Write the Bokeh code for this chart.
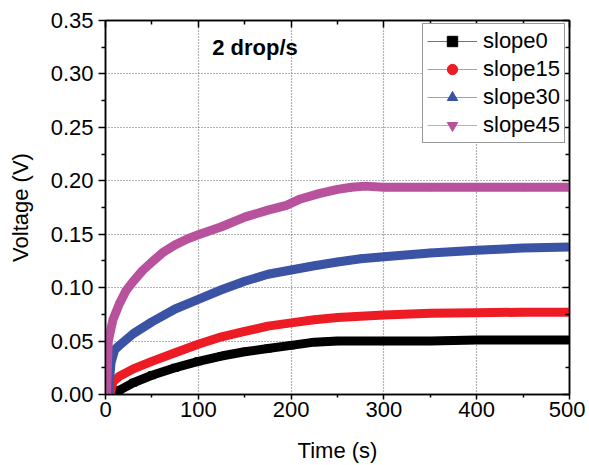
from bokeh.plotting import figure
from bokeh.models import (Range1d, FixedTicker, LinearAxis, Label, Grid,
                          PrintfTickFormatter, CustomJSTickFormatter, Legend, LegendItem)
from bokeh.embed import file_html
from bokeh.resources import INLINE

# ---- data ----
t_slope0 = [6, 15, 30, 50, 75, 100, 125, 150, 175, 200, 225, 250, 300, 350, 400, 450, 500]
v_slope0 = [0.0, 0.004, 0.011, 0.018, 0.025, 0.031, 0.036, 0.040, 0.043, 0.046, 0.049, 0.050,
            0.050, 0.050, 0.051, 0.051, 0.051]

t_slope15 = [5, 8, 15, 30, 50, 75, 100, 125, 150, 175, 200, 225, 250, 300, 350, 400, 450, 500]
v_slope15 = [0.0, 0.012, 0.017, 0.024, 0.031, 0.039, 0.047, 0.054, 0.059, 0.064, 0.067, 0.070,
             0.072, 0.0745, 0.076, 0.0765, 0.077, 0.077]

t_slope30 = [3, 6, 10, 15, 30, 50, 75, 100, 125, 150, 175, 200, 225, 250, 275, 300, 350, 400, 450, 500]
v_slope30 = [0.0, 0.030, 0.042, 0.046, 0.057, 0.068, 0.080, 0.089, 0.098, 0.106, 0.1125, 0.1165,
             0.1205, 0.124, 0.127, 0.129, 0.1325, 0.135, 0.137, 0.138]

t_slope45 = [1, 3, 8, 15, 22, 30, 40, 50, 62, 75, 88, 100, 125, 150, 175, 195, 210, 230, 250,
             265, 280, 300, 350, 400, 450, 500]
v_slope45 = [0.0, 0.050, 0.070, 0.085, 0.097, 0.106, 0.116, 0.124, 0.133, 0.140, 0.1455, 0.1495,
             0.157, 0.166, 0.1725, 0.177, 0.183, 0.188, 0.192, 0.194, 0.195, 0.194, 0.194, 0.194,
             0.194, 0.194]

series_names = ["slope0", "slope15", "slope30", "slope45"]
title_text = "2 drop/s"
x_label = "Time (s)"
y_label = "Voltage (V)"

x_ticks = [0, 100, 200, 300, 400, 500]
x_minor = [50, 150, 250, 350, 450]
y_ticks = [0.0, 0.05, 0.10, 0.15, 0.20, 0.25, 0.30, 0.35]
y_minor = [0.025, 0.075, 0.125, 0.175, 0.225, 0.275, 0.325]
x_grid = [100, 200, 300, 400]
y_grid = [0.05, 0.10, 0.15, 0.20, 0.25, 0.30]

FONT = "Liberation Sans"

p = figure(width=585, height=465, output_backend="svg", toolbar_location=None,
           x_range=Range1d(0, 500), y_range=Range1d(0, 0.35),
           min_border_left=105, min_border_right=16, min_border_top=20, min_border_bottom=70,
           x_axis_type=None, y_axis_type=None)
p.background_fill_color = "white"
p.border_fill_color = "white"
p.outline_line_color = "black"
p.outline_line_width = 1.5

xt = FixedTicker(ticks=x_ticks, minor_ticks=x_minor)
yt = FixedTicker(ticks=y_ticks, minor_ticks=y_minor)

def style_axis(ax, inward=False):
    ax.axis_line_color = "black"
    ax.axis_line_width = 1.5
    ax.major_tick_line_color = "black"
    ax.minor_tick_line_color = "black"
    ax.major_tick_line_width = 1.5
    ax.minor_tick_line_width = 1.5
    if inward:
        ax.major_tick_in, ax.major_tick_out = 7, 0
        ax.minor_tick_in, ax.minor_tick_out = 4, 0
    else:
        ax.major_tick_in, ax.major_tick_out = 0, 7
        ax.minor_tick_in, ax.minor_tick_out = 0, 4
    ax.major_label_text_font = FONT
    ax.major_label_text_font_size = "22px"
    ax.major_label_text_color = "black"
    ax.axis_label_text_font = FONT
    ax.axis_label_text_font_size = "22px"
    ax.axis_label_text_font_style = "normal"
    ax.axis_label_text_color = "black"

xb = LinearAxis(ticker=xt, axis_label=x_label)
style_axis(xb)
xb.major_tick_out = 5
xb.minor_tick_out = 3
xb.major_label_standoff = 2
xb.axis_label_standoff = 18
p.add_layout(xb, "below")

yl = LinearAxis(ticker=yt, axis_label=y_label, formatter=PrintfTickFormatter(format="%.2f"))
style_axis(yl)
yl.major_label_standoff = 5
yl.axis_label_standoff = 15
p.add_layout(yl, "left")

blank = CustomJSTickFormatter(code="return ''")
xtop = LinearAxis(ticker=xt, formatter=blank)
style_axis(xtop, inward=True)
p.add_layout(xtop, "above")
yr = LinearAxis(ticker=yt, formatter=blank)
style_axis(yr, inward=True)
p.add_layout(yr, "right")

for dim, ticks in ((0, x_grid), (1, y_grid)):
    g = Grid(dimension=dim, ticker=FixedTicker(ticks=ticks))
    g.grid_line_color = "#666666"
    g.grid_line_dash = "1 2"
    g.grid_line_width = 1.2
    p.add_layout(g)

colors = ["#000000", "#ED1C24", "#3A53A4", "#B8529C"]
markers = ["square", "circle", "triangle", "inverted_triangle"]
ts = [t_slope0, t_slope15, t_slope30, t_slope45]
vs = [v_slope0, v_slope15, v_slope30, v_slope45]

items = []
for name, c, m, t, v in zip(series_names, colors, markers, ts, vs):
    thin = p.line(t, v, line_color=c, line_width=1.2, line_alpha=0.55)
    p.line(t, v, line_color=c, line_width=9, line_join="round", line_cap="round")
    sc = p.scatter(t, v, marker=m, size=7, fill_color=c, line_color=c)
    items.append(LegendItem(label=name, renderers=[thin, sc]))

legend = Legend(items=items, location=(317, 251))
legend.label_text_font = FONT
legend.label_text_font_size = "22px"
legend.label_text_color = "black"
legend.glyph_width = 50
legend.glyph_height = 26
legend.label_height = 26
legend.label_standoff = 6
legend.spacing = 2
legend.padding = 4
legend.margin = 0
legend.border_line_color = "#333333"
legend.border_line_width = 1.2
legend.background_fill_color = "white"
legend.background_fill_alpha = 1.0
p.add_layout(legend, "center")

p.add_layout(Label(x=115, y=0.325, text=title_text, text_font=FONT, text_font_size="22px",
                   text_font_style="bold", text_color="black", text_baseline="middle"))

open("out.html", "w").write(file_html(p, INLINE))
